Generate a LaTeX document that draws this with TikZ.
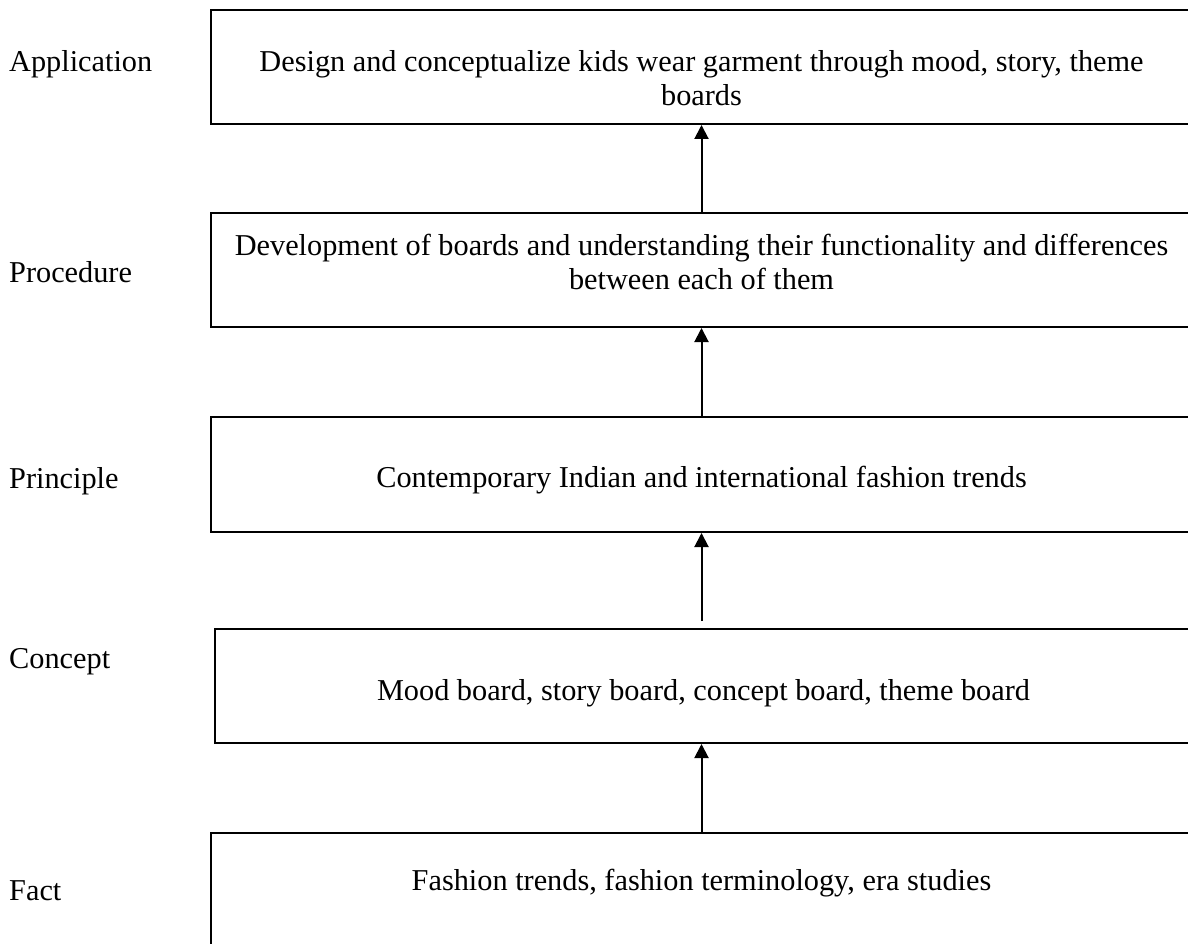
\documentclass[tikz,border=0pt]{standalone}
\usepackage{fontspec}
\setmainfont{Liberation Serif}
\usetikzlibrary{positioning, arrows.meta}
\tikzstyle{stage} = [rectangle, draw=black, line width=2pt, minimum width=981pt, minimum height=114pt, inner sep=0pt]
\tikzstyle{stagetext} = [anchor=base, align=center, inner sep=0pt, font=\fontsize{30.3}{34}\selectfont]
\tikzstyle{level} = [anchor=base west, inner sep=0pt, font=\fontsize{30.3}{34}\selectfont]
\tikzstyle{arrow} = [line width=2pt, -{Triangle[length=14pt,width=14pt]}]

\begin{document}
\begin{tikzpicture}[x=1pt, y=-1pt]
        \useasboundingbox (0,0) rectangle (1188,944);
        \clip (0,0) rectangle (1188,944);

        % boxes
        \node (application) [stage] at (701.5,67) {};
        \node (procedure) [stage] at (701.5,270) {};
        \node (principle) [stage, minimum height=115pt] at (701.5,474.5) {};
        \node (concept) [stage, minimum width=977pt] at (703.5,686) {};
        \node (fact) [stage] at (701.5,890) {};

        % box texts (base = last line)
        \node (tapplication) [stagetext] at (701.5,106) {Design and conceptualize kids wear garment through mood, story, theme\\boards};
        \node (tprocedure) [stagetext] at (701.5,289) {Development of boards and understanding their functionality and differences\\between each of them};
        \node (tprinciple) [stagetext] at (701.5,487) {Contemporary Indian and international fashion trends};
        \node (tconcept) [stagetext] at (703.5,700) {Mood board, story board, concept board, theme board};
        \node (tfact) [stagetext] at (701.5,890) {Fashion trends, fashion terminology, era studies};

        % levels
        \node (lapplication) [level] at (9,72) {Application};
        \node (lprocedure) [level] at (9,282) {Procedure};
        \node (lprinciple) [level] at (9,488) {Principle};
        \node (lconcept) [level] at (9,668) {Concept};
        \node (lfact) [level] at (9,900) {Fact};

        \draw [arrow] (procedure.north) -- (application.south);
        \draw [arrow] (principle.north) -- (procedure.south);
        \draw [arrow] ([yshift=7pt]concept.north -| principle.south) -- (principle.south);
        \draw [arrow] (fact.north -| principle.south) -- (concept.south -| principle.south);

\end{tikzpicture}
\end{document}
